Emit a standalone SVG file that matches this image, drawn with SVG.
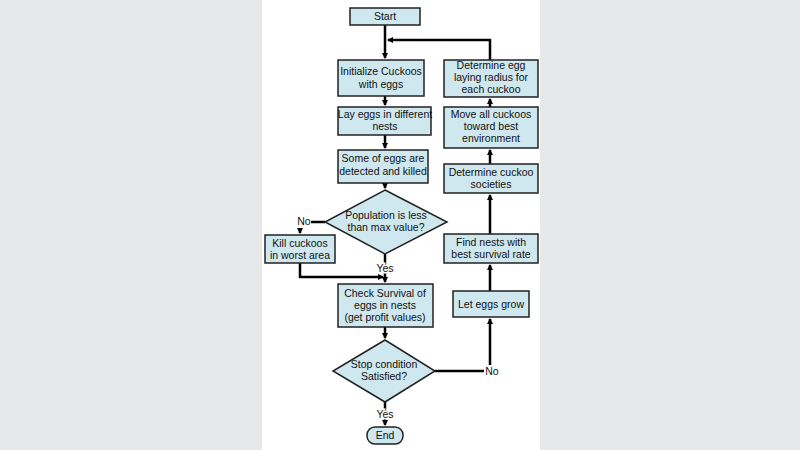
<svg xmlns="http://www.w3.org/2000/svg" width="800" height="450" viewBox="0 0 800 450">
<defs>
<marker id="a" markerWidth="6" markerHeight="6" refX="5" refY="3" orient="auto" markerUnits="userSpaceOnUse"><path d="M0,0 L6,3 L0,6 z" fill="#000"/></marker>
<style>
.n{fill:#cfe7ef;stroke:#222;stroke-width:1.5}
text{font-family:"Liberation Sans",Arial,sans-serif;font-size:10.5px;fill:#111;text-anchor:middle}
.l{stroke:#fff;stroke-width:3px;paint-order:stroke}
.c{fill:none;stroke:#000;stroke-width:2.5}
</style>
</defs>
<rect width="800" height="450" fill="#dfe3e5"/>
<rect x="0" y="0" width="262" height="450" fill="#e6e8ea"/>
<rect x="540" y="0" width="260" height="450" fill="#e6e8ea"/>
<rect x="262" y="0" width="278" height="450" fill="#fff"/>
<g id="connectors">
<path class="c" d="M385,25 V58" marker-end="url(#a)"/>
<path class="c" d="M490,60 V40 H388" marker-end="url(#a)"/>
<path class="c" d="M385,96 V105" marker-end="url(#a)"/>
<path class="c" d="M385,135 V148" marker-end="url(#a)"/>
<path class="c" d="M385,183 V188" marker-end="url(#a)"/>
<path class="c" d="M325,222 H311"/>
<path class="c" d="M300,228 V233" marker-end="url(#a)"/>
<path class="c" d="M300,263 V277 H383" marker-end="url(#a)"/>
<path class="c" d="M385,254 V282" marker-end="url(#a)"/>
<path class="c" d="M385,327 V338" marker-end="url(#a)"/>
<path class="c" d="M385,402 V425" marker-end="url(#a)"/>
<path class="c" d="M435,371 H484 M490,365 V319" marker-end="url(#a)"/>
<path class="c" d="M490,291 V265" marker-end="url(#a)"/>
<path class="c" d="M490,234 V195" marker-end="url(#a)"/>
<path class="c" d="M490,164 V150" marker-end="url(#a)"/>
<path class="c" d="M490,107 V99" marker-end="url(#a)"/>
</g>
<g id="start"><rect class="n" x="350" y="8" width="70" height="17"/><text x="385" y="20">Start</text></g>
<g id="init"><rect class="n" x="338" y="60" width="86" height="36"/><text x="381" y="75">Initialize Cuckoos</text><text x="381" y="88">with eggs</text></g>
<g id="lay"><rect class="n" x="338" y="107" width="93" height="28"/><text x="385" y="118">Lay eggs in different</text><text x="385" y="130">nests</text></g>
<g id="some"><rect class="n" x="338" y="150" width="90" height="33"/><text x="383" y="162">Some of eggs are</text><text x="383" y="175">detected and killed</text></g>
<g id="pop"><polygon class="n" points="385,190 447,222 385,254 325,222"/><text x="386" y="219">Population is less</text><text x="386" y="231">than max value?</text></g>
<text x="304" y="225">No</text>
<g id="kill"><rect class="n" x="265" y="235" width="70" height="28"/><text x="300" y="247">Kill cuckoos</text><text x="300" y="259">in worst area</text></g>
<text class="l" x="385" y="272">Yes</text>
<g id="check"><rect class="n" x="338" y="284" width="95" height="43"/><text x="385" y="297">Check Survival of</text><text x="385" y="309">eggs in nests</text><text x="385" y="321">(get profit values)</text></g>
<g id="stop"><polygon class="n" points="385,340 435,371 385,402 333,371"/><text x="384" y="368">Stop condition</text><text x="384" y="380">Satisfied?</text></g>
<text x="492" y="375">No</text>
<text class="l" x="385" y="418">Yes</text>
<g id="end"><rect class="n" x="367" y="427" width="36" height="17" rx="8"/><text x="385" y="439">End</text></g>
<g id="egg"><rect class="n" x="444" y="60" width="94" height="37"/><text x="491" y="69">Determine egg</text><text x="491" y="81">laying radius for</text><text x="491" y="93">each cuckoo</text></g>
<g id="move"><rect class="n" x="444" y="107" width="94" height="41"/><text x="491" y="118">Move all cuckoos</text><text x="491" y="130">toward best</text><text x="491" y="142">environment</text></g>
<g id="soc"><rect class="n" x="444" y="164" width="94" height="29"/><text x="491" y="176">Determine cuckoo</text><text x="491" y="188">societies</text></g>
<g id="find"><rect class="n" x="444" y="234" width="94" height="29"/><text x="491" y="246">Find nests with</text><text x="491" y="258">best survival rate</text></g>
<g id="grow"><rect class="n" x="453" y="291" width="76" height="26"/><text x="491" y="308">Let eggs grow</text></g>
</svg>
